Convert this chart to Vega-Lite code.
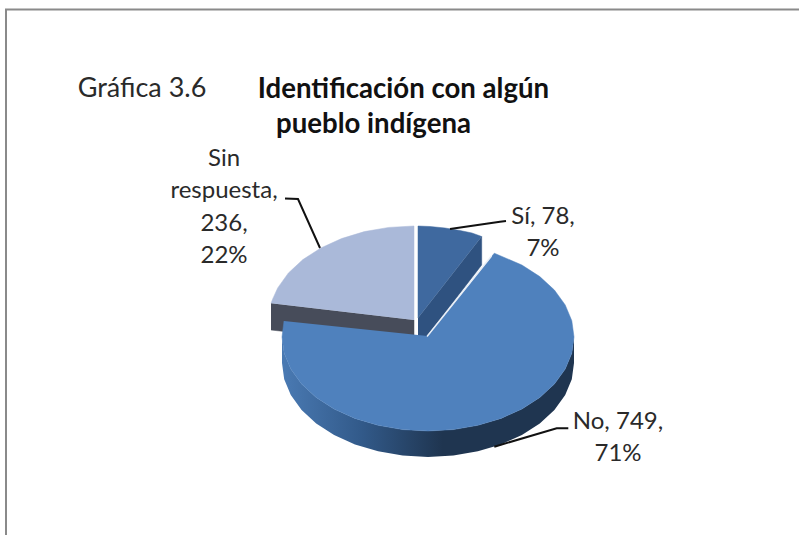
{
"$schema":"https://vega.github.io/schema/vega-lite/v6.json",
"width":799,"height":535,"padding":0,
"autosize":"none",
"background":"white",
"config":{"view":{"stroke":null}},
"datasets":{
"sin":[{"i":0,"x":414,"y":320},{"i":1,"x":414,"y":226},{"i":2,"x":388.8,"y":227.4},{"i":3,"x":364.4,"y":231.6},{"i":4,"x":341.5,"y":238.6},{"i":5,"x":320.8,"y":248},{"i":6,"x":302.9,"y":259.6},{"i":7,"x":288.4,"y":273},{"i":8,"x":277.7,"y":287.9},{"i":9,"x":272.7,"y":298.9},{"i":10,"x":271,"y":303.3}],
"sinWall":[{"i":0,"x":271,"y":303.3},{"i":1,"x":414,"y":320},{"i":2,"x":414,"y":346},{"i":3,"x":271,"y":330}],
"si":[{"i":0,"x":418,"y":318},{"i":1,"x":418,"y":226},{"i":2,"x":430,"y":226.5},{"i":3,"x":445,"y":228},{"i":4,"x":460,"y":230.5},{"i":5,"x":472,"y":233},{"i":6,"x":481.7,"y":236.5}],
"siWall":[{"i":0,"x":418,"y":318},{"i":1,"x":481.7,"y":236.5},{"i":2,"x":481.7,"y":265},{"i":3,"x":427,"y":336},{"i":4,"x":418,"y":336}],
"no":[{"i":0,"x":427.5,"y":336},{"i":1,"x":494.3,"y":253.2},{"i":2,"x":521.9,"y":265},{"i":3,"x":539.8,"y":276.6},{"i":4,"x":554.4,"y":290},{"i":5,"x":565.2,"y":304.9},{"i":6,"x":571.8,"y":320.7},{"i":7,"x":574,"y":337},{"i":8,"x":571.8,"y":353.3},{"i":9,"x":565.2,"y":369.1},{"i":10,"x":554.4,"y":384},{"i":11,"x":539.8,"y":397.4},{"i":12,"x":521.9,"y":409},{"i":13,"x":501,"y":418.4},{"i":14,"x":477.9,"y":425.3},{"i":15,"x":453.4,"y":429.6},{"i":16,"x":428,"y":431},{"i":17,"x":402.6,"y":429.6},{"i":18,"x":378.1,"y":425.3},{"i":19,"x":355,"y":418.4},{"i":20,"x":334.1,"y":409},{"i":21,"x":316.2,"y":397.4},{"i":22,"x":301.6,"y":384},{"i":23,"x":290.8,"y":369.1},{"i":24,"x":284.2,"y":353.3},{"i":25,"x":282,"y":337},{"i":26,"x":284,"y":321}],
"noWall":[{"x":282,"y":337,"y2":363},{"x":284.2,"y":353.3,"y2":379.3},{"x":290.8,"y":369.1,"y2":395.1},{"x":301.6,"y":384,"y2":410},{"x":316.2,"y":397.4,"y2":423.4},{"x":334.1,"y":409,"y2":435},{"x":355,"y":418.4,"y2":444.4},{"x":378.1,"y":425.3,"y2":451.3},{"x":402.6,"y":429.6,"y2":455.6},{"x":428,"y":431,"y2":457},{"x":453.4,"y":429.6,"y2":455.6},{"x":477.9,"y":425.3,"y2":451.3},{"x":501,"y":418.4,"y2":444.4},{"x":521.9,"y":409,"y2":435},{"x":539.8,"y":397.4,"y2":423.4},{"x":554.4,"y":384,"y2":410},{"x":565.2,"y":369.1,"y2":395.1},{"x":571.8,"y":353.3,"y2":379.3},{"x":574,"y":337,"y2":363}],
"gap":[{"i":0,"x":427,"y":336.5},{"i":1,"x":491.5,"y":256}],
"leaders":[{"k":"si","i":0,"x":450,"y":229},{"k":"si","i":1,"x":500,"y":221.7},{"k":"si","i":2,"x":506,"y":221},{"k":"sin","i":0,"x":320,"y":248},{"k":"sin","i":1,"x":298,"y":199},{"k":"sin","i":2,"x":285,"y":198.5},{"k":"no","i":0,"x":494.3,"y":446.7},{"k":"no","i":1,"x":556.7,"y":428.3},{"k":"no","i":2,"x":568.3,"y":428.3}],
"frame":[{"i":0,"x":6,"y":535},{"i":1,"x":6,"y":9.5},{"i":2,"x":799,"y":9.5}],
"labels":[
{"slice":"Sí","value":78,"percent":7,"label":"Sí, 78,\n7%","x":543,"y":224},
{"slice":"No","value":749,"percent":71,"label":"No, 749,\n71%","x":618,"y":429},
{"slice":"Sin respuesta","value":236,"percent":22,"label":"Sin\nrespuesta,\n236,\n22%","x":224,"y":166}
],
"heading":[{"text":"Gráfica 3.6","x":142,"y":97}],
"titles":[
{"text":"Identificación con algún","x":403.5,"y":98},
{"text":"pueblo indígena","x":373.5,"y":133}
]
},
"encoding":{
"x":{"field":"x","type":"quantitative","scale":{"domain":[0,799],"nice":false,"zero":false},"axis":null},
"y":{"field":"y","type":"quantitative","scale":{"domain":[535,0],"nice":false,"zero":false},"axis":null},
"order":{"field":"i"}
},
"layer":[
{"data":{"name":"frame"},"mark":{"type":"line","stroke":"#8a8a8a","strokeWidth":2}},
{"data":{"name":"sinWall"},"mark":{"type":"line","fill":"#474c5a","stroke":"#474c5a","strokeWidth":0.5}},
{"data":{"name":"sin"},"mark":{"type":"line","fill":"#aab9d9","stroke":"#aab9d9","strokeWidth":0.5}},
{"data":{"name":"siWall"},"mark":{"type":"line","fill":"#2f5280","stroke":"#2f5280","strokeWidth":0.5}},
{"data":{"name":"si"},"mark":{"type":"line","fill":"#3f699f","stroke":"#3f699f","strokeWidth":0.5}},
{"data":{"name":"noWall"},"mark":{"type":"area","color":{"gradient":"linear","x1":0,"x2":1,"y1":0,"y2":0,"stops":[{"offset":0,"color":"#4a7ab3"},{"offset":0.27,"color":"#325a8a"},{"offset":0.55,"color":"#1f3550"},{"offset":1,"color":"#1f3550"}]}},
 "encoding":{"y2":{"field":"y2"},"order":null}},
{"data":{"name":"no"},"mark":{"type":"line","fill":"#4f81bd","stroke":"#4f81bd","strokeWidth":0.5}},
{"data":{"name":"gap"},"mark":{"type":"line","stroke":"#e8eef6","strokeWidth":1.5}},
{"data":{"name":"leaders"},"mark":{"type":"line","stroke":"#111111","strokeWidth":2},"encoding":{"detail":{"field":"k"}}},
{"data":{"name":"labels"},"mark":{"type":"text","font":"Lato","fontSize":24,"color":"#2a2a2a","lineBreak":"\n","lineHeight":32.3,"align":"center","baseline":"alphabetic"},"encoding":{"text":{"field":"label"},"order":null}},
{"data":{"name":"heading"},"mark":{"type":"text","font":"Lato","fontSize":27,"color":"#2a2a2a","align":"center","baseline":"alphabetic"},"encoding":{"text":{"field":"text"},"order":null}},
{"data":{"name":"titles"},"mark":{"type":"text","font":"Lato","fontSize":27.6,"fontWeight":"bold","color":"#111111","align":"center","baseline":"alphabetic"},"encoding":{"text":{"field":"text"},"order":null}}
]
}
